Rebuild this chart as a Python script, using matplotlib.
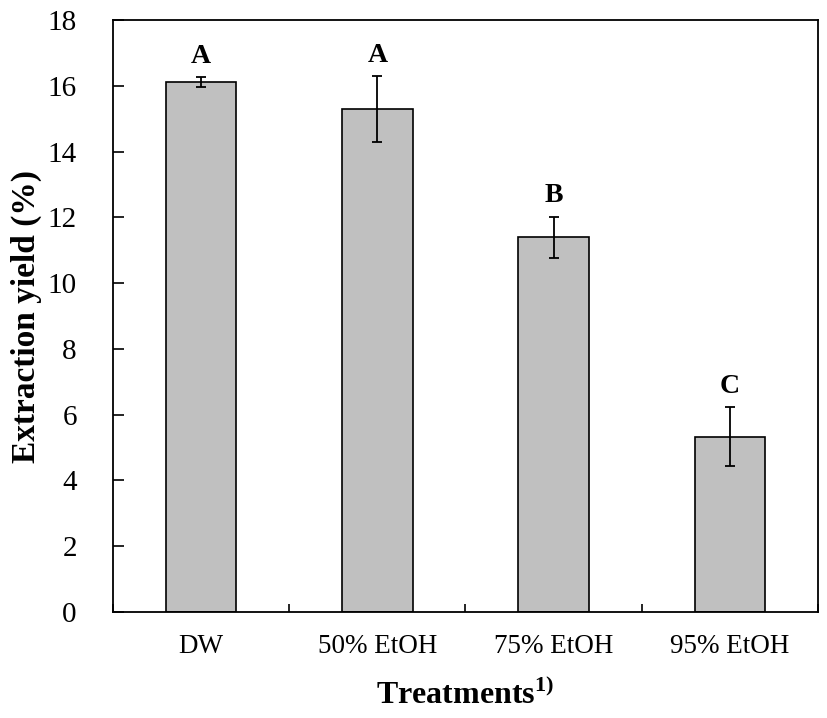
import matplotlib.pyplot as plt
import numpy as np

plt.rcParams['font.family'] = ['Liberation Serif', 'DejaVu Serif']
plt.rcParams['mathtext.fontset'] = 'custom'
plt.rcParams['mathtext.rm'] = 'Liberation Serif'
plt.rcParams['mathtext.bf'] = 'Liberation Serif:bold'

categorias = ['DW', '50% EtOH', '75% EtOH', '95% EtOH']
rendimento = [16.12, 15.30, 11.40, 5.33]
erro = [0.15, 1.00, 0.62, 0.90]
letras = ['A', 'A', 'B', 'C']

fig, ax = plt.subplots(figsize=(8.27, 7.18), dpi=100)
fig.subplots_adjust(left=0.1366, right=0.989, top=0.972, bottom=0.1476)

x = np.arange(len(categorias))
ax.bar(x, rendimento, width=0.4, color='#c0c0c0', edgecolor='black', linewidth=1.2,
       yerr=erro, capsize=3.5, error_kw=dict(elinewidth=1.3, capthick=1.3, ecolor='black'))

# letras de significancia acima das barras
for i in range(len(x)):
    ax.annotate(letras[i], (x[i], rendimento[i] + erro[i]), xytext=(0, 6),
                textcoords='offset points', ha='center', va='bottom',
                fontsize=20, fontweight='bold')

ax.set_xlim(-0.5, 3.5)
ax.set_ylim(0, 18)
ax.set_yticks(np.arange(0, 19, 2))
ax.set_xticks(x)
ax.set_xticklabels(categorias)
ax.set_xticks(np.arange(-0.5, 3.6, 1), minor=True)

ax.tick_params(axis='y', direction='in', length=8, width=1.2, pad=26, labelsize=21)
ax.tick_params(axis='x', which='major', length=0, pad=16, labelsize=19.5)
ax.tick_params(axis='x', which='minor', direction='in', length=6, width=1.2)

for s in ax.spines.values():
    s.set_linewidth(1.3)

ax.set_ylabel('Extraction yield (%)', fontsize=24, fontweight='bold', labelpad=4)
ax.set_xlabel(r'Treatments$^{\mathbf{1)}}$', fontsize=23, fontweight='bold', labelpad=14)

plt.savefig('out.png')
